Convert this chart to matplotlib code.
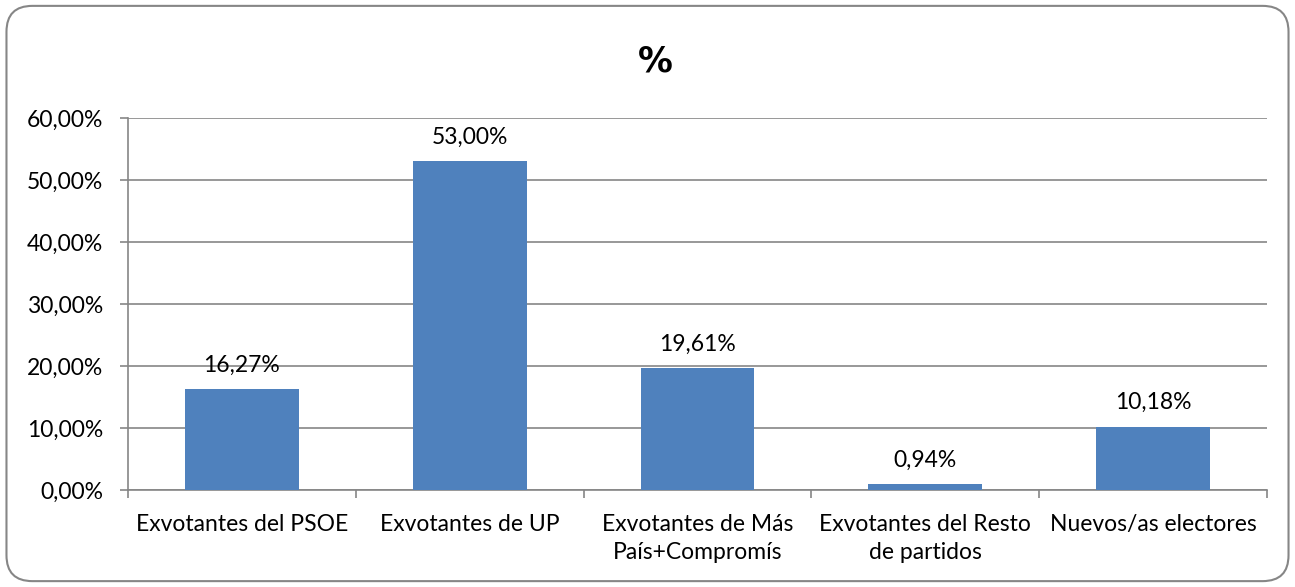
import matplotlib
matplotlib.use('Agg')
import matplotlib.pyplot as plt
from matplotlib.patches import FancyBboxPatch
import numpy as np

plt.rcParams['font.family'] = ['Lato', 'DejaVu Sans']

categories = ["Exvotantes del PSOE", "Exvotantes de UP", "Exvotantes de Más\nPaís+Compromís",
              "Exvotantes del Resto\nde partidos", "Nuevos/as electores"]
values = [16.27, 53.00, 19.61, 0.94, 10.18]
yticks = [0, 10, 20, 30, 40, 50, 60]

grey = '#868686'
bar_color = '#4F81BD'
fs = 16.5

fig = plt.figure(figsize=(12.95, 5.87), dpi=100)
# rounded chart border
border = FancyBboxPatch((0.005, 0.01), 0.99, 0.98, boxstyle="round,pad=0,rounding_size=0.02",
                        transform=fig.transFigure, facecolor='none', edgecolor=grey,
                        linewidth=1.5, mutation_aspect=1295 / 587, zorder=-1)
fig.patches.append(border)

ax = fig.add_axes([0.0988, 0.1652, 0.8796, 0.634])
x = np.arange(len(categories))
ax.bar(x, values, width=0.5, color=bar_color, zorder=3)

for xi, v in zip(x, values):
    ax.text(xi, v + 2.2, ("%.2f%%" % v).replace('.', ','), ha='center', va='bottom', fontsize=fs)

ax.set_xlim(-0.5, len(categories) - 0.5)
ax.set_ylim(0, 60)
ax.set_yticks(yticks)
ax.set_yticklabels([("%.2f%%" % t).replace('.', ',') for t in yticks], fontsize=fs)
ax.set_xticks(np.arange(len(categories) + 1) - 0.5)
ax.set_xticklabels([])
ax.set_xticks(x, minor=True)
ax.set_xticklabels(categories, minor=True, fontsize=fs, linespacing=1.45)
ax.tick_params(axis='x', which='minor', length=0, pad=17)
ax.tick_params(axis='x', which='major', length=6, color=grey, width=1.2)
ax.tick_params(axis='y', length=6, color=grey, width=1.2, pad=12)
ax.yaxis.grid(True, color=grey, linewidth=1.2, zorder=0)
for s in ['top', 'right']:
    ax.spines[s].set_visible(False)
for s in ['left', 'bottom']:
    ax.spines[s].set_color(grey)
    ax.spines[s].set_linewidth(1.2)
ax.set_facecolor('none')

fig.text(0.506, 0.895, "%", ha='center', va='center', fontsize=25, fontweight='bold',
         family=['DejaVu Sans'])

fig.savefig("out.png", dpi=100)
